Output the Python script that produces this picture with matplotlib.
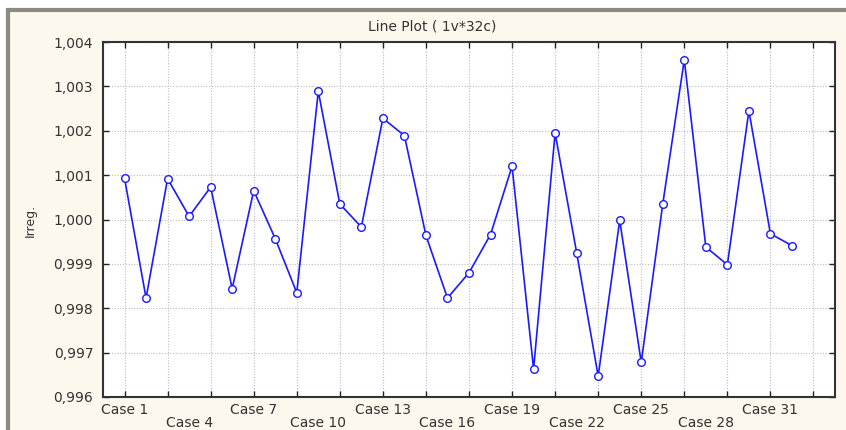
import numpy as np
import matplotlib.pyplot as plt
from matplotlib.patches import Rectangle
from matplotlib.ticker import FuncFormatter

plt.rcParams['font.family'] = ['DejaVu Sans']

# values, one per case
irreg = [1.00093, 0.99823, 1.00092, 1.00007, 1.00073, 0.99844, 1.00065, 0.99957,
         0.99835, 1.00289, 1.00035, 0.99983, 1.00228, 1.00189, 0.99964, 0.99823,
         0.99880, 0.99966, 1.00120, 0.99663, 1.00195, 0.99925, 0.99647, 0.99998,
         0.99678, 1.00035, 1.00360, 0.99938, 0.99898, 1.00245, 0.99968, 0.99941]
case_names = ["Case %d" % (i + 1) for i in range(len(irreg))]
labelled = [1, 4, 7, 10, 13, 16, 19, 22, 25, 28, 31]
yticks = [0.996, 0.997, 0.998, 0.999, 1.000, 1.001, 1.002, 1.003, 1.004]

bg = '#fdf8ee'
txt = '#333333'
fig = plt.figure(figsize=(8.46, 4.30), dpi=100)
fig.patch.set_facecolor('white')

# beige panel with grey frame on top/left
fig.patches.append(Rectangle((8 / 846, -0.05), 1.0, 1 - 10 / 430 + 0.05,
                             transform=fig.transFigure, facecolor=bg,
                             edgecolor='#8a8a80', linewidth=3, zorder=-1))

ax = fig.add_axes([103 / 846, 1 - 397 / 430, 732 / 846, 355 / 430])
ax.set_zorder(1)
ax.set_facecolor('white')

x = np.arange(1, len(irreg) + 1)
ax.plot(x, irreg, color='#1a1aff', linewidth=1.2, marker='o', markersize=5.5,
        markerfacecolor='white', markeredgecolor='#1a1aff', markeredgewidth=1.0,
        zorder=3)

ax.set_xlim(0, 34)
ax.set_ylim(0.996, 1.004)
ax.set_xticks(np.arange(1, 34, 2))
ax.set_xticklabels([])
ax.set_yticks(yticks)
ax.yaxis.set_major_formatter(FuncFormatter(lambda v, p: ('%.3f' % v).replace('.', ',')))

ax.grid(True, color='#bdbdbd', linestyle=(0, (1, 1.5)), linewidth=0.8)
ax.tick_params(axis='both', direction='in', length=4, width=1, top=True, right=True,
               labelsize=10, colors='#222222', labelcolor=txt)
ax.tick_params(axis='y', pad=7)
for s in ax.spines.values():
    s.set_linewidth(1.5)
    s.set_color('#333333')

# staggered case labels
for k, c in enumerate(labelled):
    yoff = -13 / 355 if k % 2 == 0 else -26 / 355
    ax.text(c, yoff, case_names[c - 1], transform=ax.get_xaxis_transform(),
            ha='center', va='center', fontsize=10, color=txt)

fig.text(30 / 846, 1 - 220 / 430, 'Irreg.', rotation=90, ha='center', va='center',
         fontsize=9, color=txt)
fig.text(432 / 846, 1 - 27 / 430, 'Line Plot ( 1v*32c)',
         ha='center', va='center', fontsize=10, color=txt)

fig.savefig('out.png', dpi=100, facecolor=fig.get_facecolor())
